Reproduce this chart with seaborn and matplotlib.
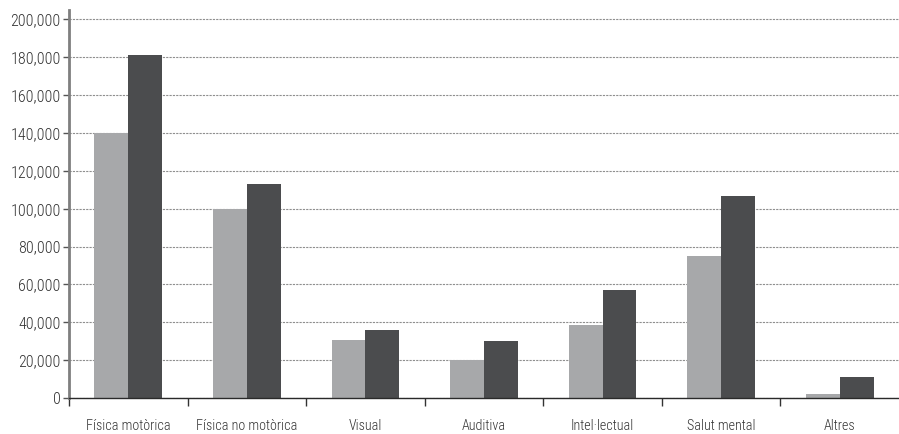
import matplotlib
matplotlib.use("Agg")
import matplotlib.pyplot as plt
import seaborn as sns
import pandas as pd
from matplotlib.ticker import FuncFormatter

categories = ["Física motòrica", "Física no motòrica", "Visual", "Auditiva",
              "Intel·lectual", "Salut mental", "Altres"]
series_names = ["Sèrie 1", "Sèrie 2"]
values_1 = [140000, 100000, 30500, 20300, 38500, 75000, 1900]
values_2 = [181000, 113000, 36000, 30000, 57000, 106500, 11000]
y_ticks = [0, 20000, 40000, 60000, 80000, 100000, 120000, 140000, 160000, 180000, 200000]

df = pd.DataFrame({
    "categoria": categories * 2,
    "serie": [series_names[0]] * len(categories) + [series_names[1]] * len(categories),
    "valor": values_1 + values_2,
})

sns.set_theme(style="white")
plt.rcParams["font.family"] = ["Roboto Condensed", "DejaVu Sans"]
plt.rcParams["font.weight"] = "light"

fig = plt.figure(figsize=(8.99, 4.34), dpi=100)
ax = fig.add_axes([69 / 899, 36 / 434, 1 - 69 / 899, (398 - 10) / 434])

sns.barplot(data=df, x="categoria", y="valor", hue="serie",
            palette=["#a7a8aa", "#4b4c4e"], width=0.57, saturation=1,
            linewidth=0, legend=False, ax=ax)

ax.set_xlim(-0.5, len(categories) - 0.5)
ax.set_ylim(0, 205000)
ax.set_yticks(y_ticks)
ax.yaxis.set_major_formatter(FuncFormatter(lambda v, p: f"{int(v):,}"))
ax.set_xlabel("")
ax.set_ylabel("")

ax.grid(axis="y", color="#8f8f8f", linestyle=(0, (2, 1)), linewidth=0.8)
ax.set_axisbelow(True)

for s in ["top", "right"]:
    ax.spines[s].set_visible(False)
ax.spines["left"].set_color("#7f7f7f")
ax.spines["left"].set_linewidth(2)
ax.spines["bottom"].set_color("#2a2a2a")
ax.spines["bottom"].set_linewidth(1)

ax.tick_params(axis="y", left=True, length=4, width=1, color="#555555",
               labelsize=11.5, labelcolor="#333333", pad=2)
# category boundary ticks on the x axis
ax.set_xticks([i - 0.5 for i in range(len(categories))], minor=False)
ax.set_xticklabels([])
ax.set_xticks(list(range(len(categories))), minor=True)
ax.set_xticklabels(categories, minor=True)
ax.tick_params(axis="x", which="major", bottom=True, length=6, width=1, color="#333333")
ax.tick_params(axis="x", which="minor", bottom=False, length=0,
               labelsize=10.2, labelcolor="#333333", pad=15)

fig.savefig("out.png", dpi=100)
